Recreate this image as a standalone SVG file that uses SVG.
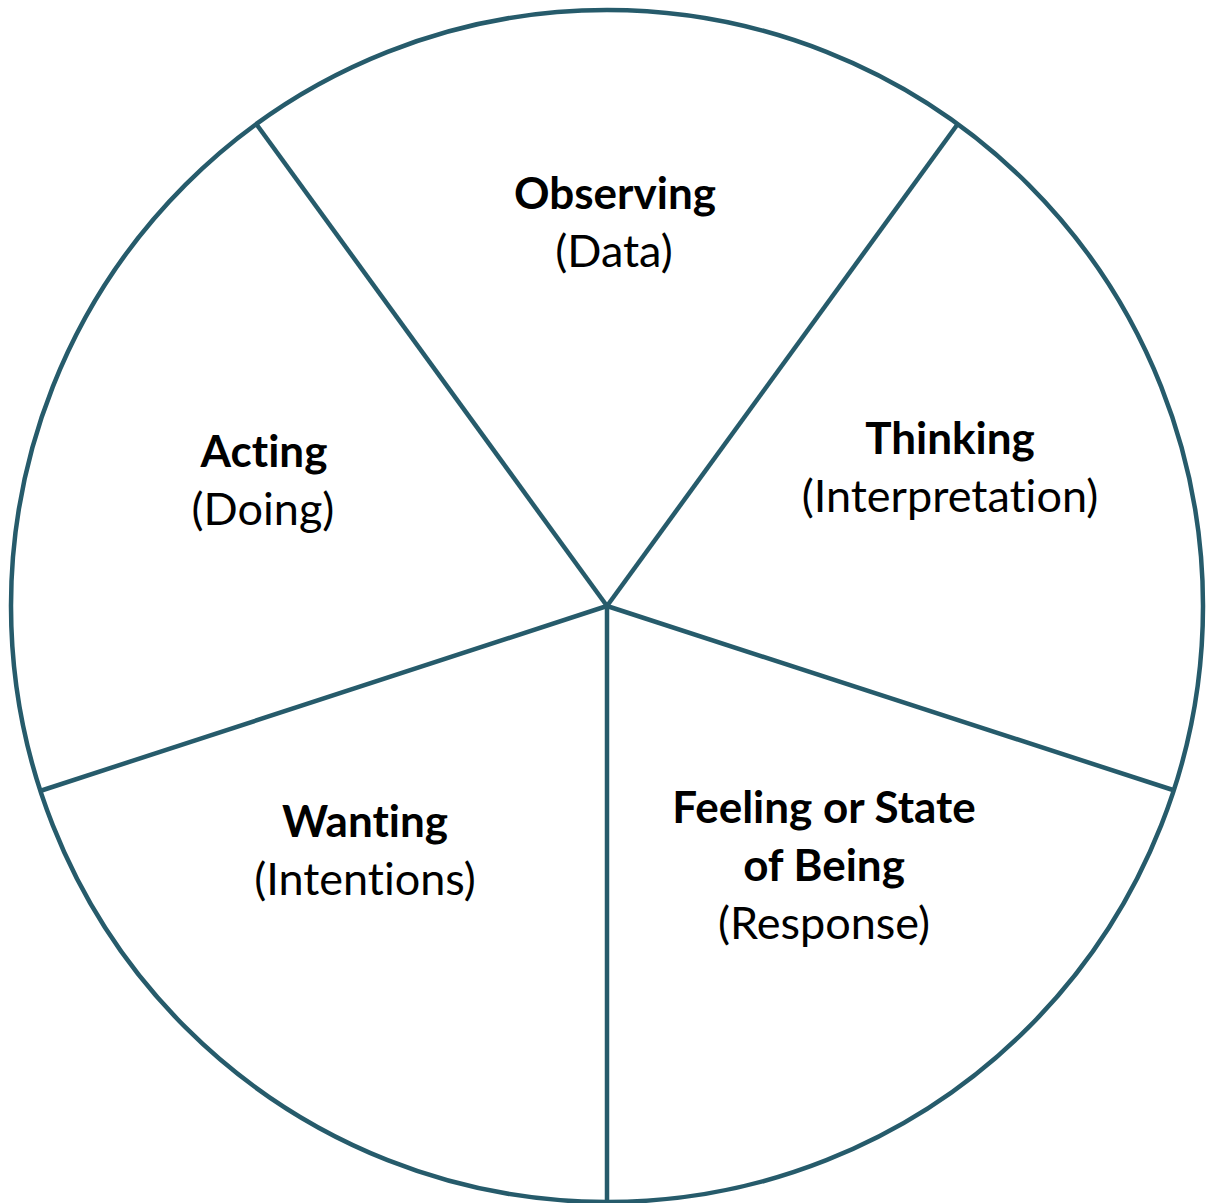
<svg xmlns="http://www.w3.org/2000/svg" width="1206" height="1203" viewBox="0 0 1206 1203">
<style>
.ln{stroke:#265b6b;stroke-width:4.5;fill:none;stroke-linecap:butt}
.t{font-family:Lato,"Liberation Sans",sans-serif;font-size:45px;fill:#000;text-anchor:middle;font-variant-ligatures:none}
.b{font-weight:bold;font-size:44px}
</style>
<rect width="1206" height="1203" fill="#fff"/>
<g id="connectors">
<circle class="ln" cx="607" cy="606" r="596"/>
<line class="ln" x1="607" y1="606" x2="257" y2="125"/>
<line class="ln" x1="607" y1="606" x2="957" y2="125"/>
<line class="ln" x1="607" y1="606" x2="1173" y2="790"/>
<line class="ln" x1="607" y1="606" x2="607" y2="1202"/>
<line class="ln" x1="607" y1="606" x2="40" y2="791"/>
</g>
<g id="observing"><text class="t b" x="615" y="209">Observing</text><text class="t" x="614" y="267">(Data)</text></g>
<g id="thinking"><text class="t b" x="950" y="454">Thinking</text><text class="t" x="950" y="512">(Interpretation)</text></g>
<g id="feeling"><text class="t b" x="824" y="823">Feeling or State</text><text class="t b" x="824" y="881">of Being</text><text class="t" x="824" y="939">(Response)</text></g>
<g id="wanting"><text class="t b" x="365" y="837">Wanting</text><text class="t" x="365" y="895">(Intentions)</text></g>
<g id="acting"><text class="t b" x="264" y="467">Acting</text><text class="t" x="263" y="525">(Doing)</text></g>
</svg>
